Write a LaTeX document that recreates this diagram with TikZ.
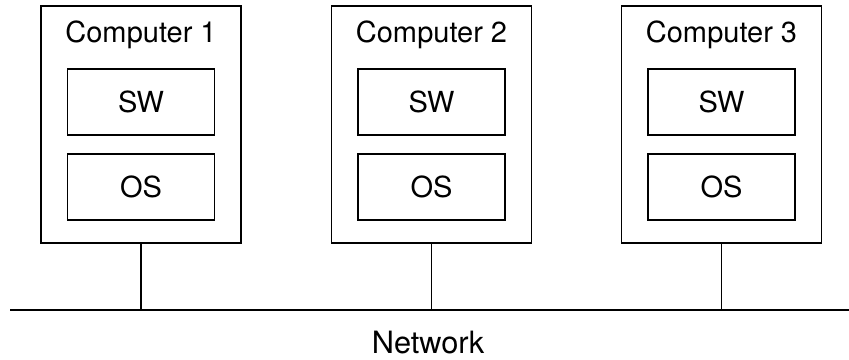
\documentclass[tikz,border=0pt]{standalone}
\usepackage{fontspec}
\setmainfont{TeX Gyre Heros}
\usetikzlibrary{positioning}
\tikzset{
  pcbox/.style={draw=black,line width=1pt,fill=white,
    minimum width=4.0cm,minimum height=4.74cm,inner sep=0pt},
  pctitle/.style={anchor=base,inner sep=0pt,
    font=\fontsize{16.5}{19}\selectfont},
  layerbox/.style={draw=black,line width=1pt,
    minimum width=2.94cm,minimum height=1.32cm,inner sep=0pt,
    font=\fontsize{16.5}{19}\selectfont},
  netline/.style={line width=1pt},
  tapline/.style={line width=0.8pt},
  netlabel/.style={inner sep=0pt,font=\fontsize{17.5}{21}\selectfont},
}
\begin{document}
\begin{tikzpicture}
  \useasboundingbox (0,0) rectangle (16.98,7.18);
  % hosts
  \node[pcbox] (pc1) at (2.82,4.69) {};
  \node[pcbox] (pc2) at (8.63,4.69) {};
  \node[pcbox] (pc3) at (14.43,4.69) {};
  \node[pctitle] (t1) at ([yshift=-0.74cm]pc1.north) {Computer 1};
  \node[pctitle] (t2) at ([yshift=-0.74cm]pc2.north) {Computer 2};
  \node[pctitle] (t3) at ([yshift=-0.74cm]pc3.north) {Computer 3};
  \node[layerbox] (sw1) at ([yshift=-1.94cm]pc1.north) {SW};
  \node[layerbox] (sw2) at ([yshift=-1.94cm]pc2.north) {SW};
  \node[layerbox] (sw3) at ([yshift=-1.94cm]pc3.north) {SW};
  \node[layerbox] (os1) at ([yshift=-3.64cm]pc1.north) {OS};
  \node[layerbox] (os2) at ([yshift=-3.64cm]pc2.north) {OS};
  \node[layerbox] (os3) at ([yshift=-3.64cm]pc3.north) {OS};
  % shared bus
  \coordinate (netL) at (0.2,0.98);
  \coordinate (netR) at (16.98,0.98);
  \draw[netline] (netL) -- (netR);
  \coordinate (tap1) at (pc1.south |- netL);
  \coordinate (tap2) at (pc2.south |- netL);
  \coordinate (tap3) at (pc3.south |- netL);
  \draw[tapline] (pc1.south) -- (tap1);
  \draw[tapline] (pc2.south) -- (tap2);
  \draw[tapline] (pc3.south) -- (tap3);
  \node[netlabel] (net) at (8.56,0.33) {Network};
\end{tikzpicture}
\end{document}
